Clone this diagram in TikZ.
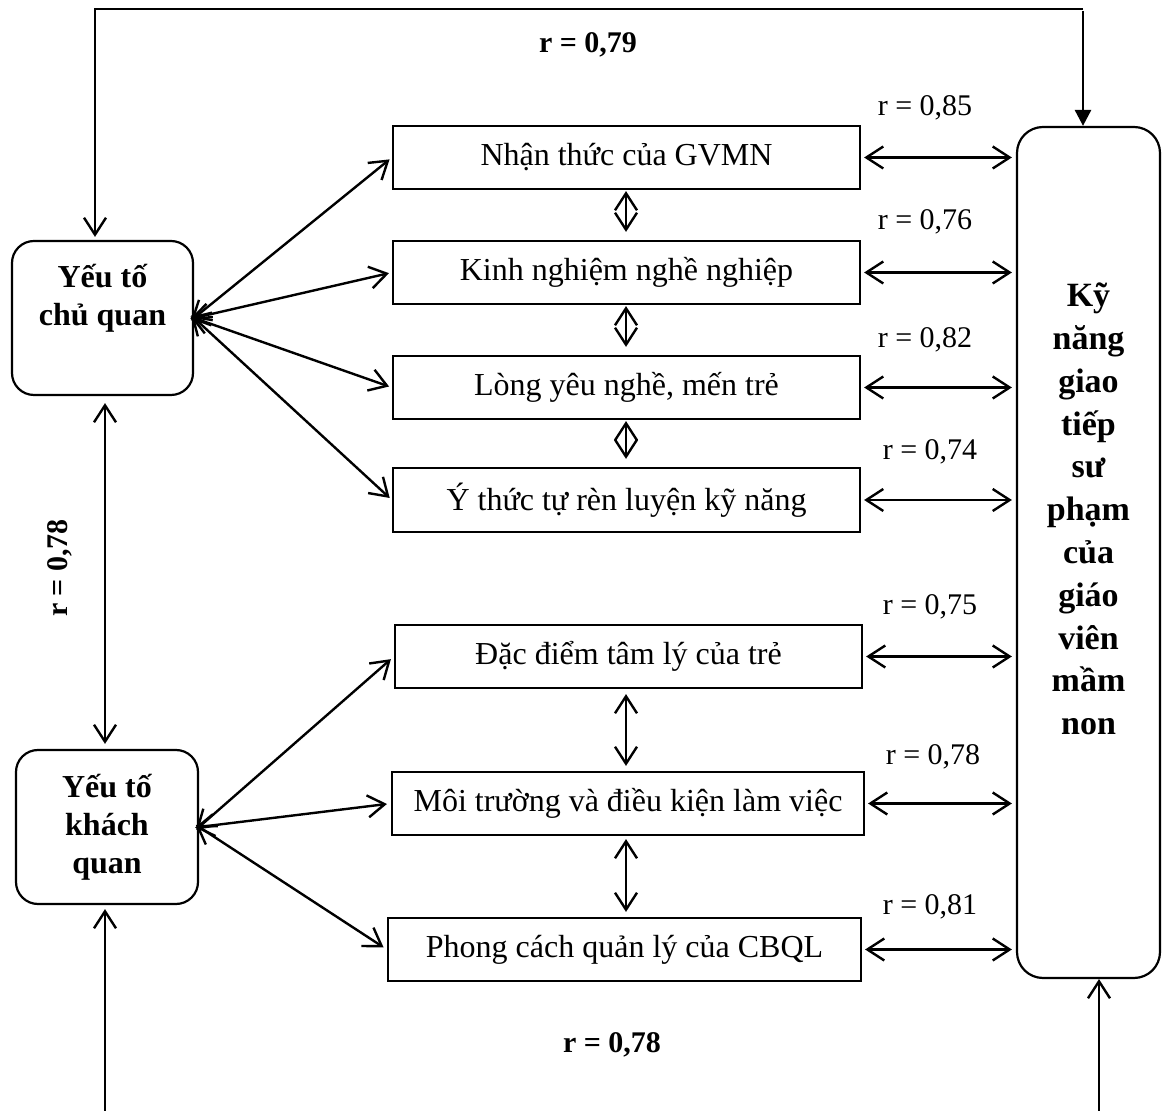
\documentclass[tikz,border=0pt]{standalone}
\usepackage{fontspec}
\setmainfont{Liberation Serif}
\usetikzlibrary{arrows.meta}
\begin{document}
\begin{tikzpicture}[x=0.5pt,y=-0.5pt,line width=1.2pt,
  barb/.tip={Straight Barb[length=8.5pt,width=11pt,line width=1.2pt]},
  dbl/.style={barb-barb},
  sgl/.style={-barb},
  fbox/.style={draw,line width=1.1pt,minimum height=31.5pt,inner sep=0pt,font=\fontsize{16}{19}\selectfont},
  sbox/.style={draw,line width=1.1pt,rounded corners=11pt,inner sep=0pt},
  rl/.style={font=\fontsize{15}{18}\selectfont},
  rb/.style={font=\bfseries\fontsize{15}{18}\selectfont},
  btxt/.style={font=\bfseries\fontsize{16}{19}\selectfont,align=center}]
\useasboundingbox (0,0) rectangle (1163,1111);
% left boxes
\node[sbox,minimum width=90.5pt,minimum height=77pt] (A) at (102.5,318) {};
\node[btxt] (At) at (102.5,298) {Yếu tố\\chủ quan};
\node[sbox,minimum width=91pt,minimum height=77pt,btxt] (B) at (107,827) {Yếu tố\\khách\\quan};
% big right box
\node[sbox,rounded corners=13pt,minimum width=71.5pt,minimum height=425.5pt] (C) at (1088.5,552.5) {};
\node[font=\bfseries\fontsize{17}{21.4}\selectfont,align=center] (Ct) at (1088.5,509)
  {Kỹ\\năng\\giao\\tiếp\\sư\\phạm\\của\\giáo\\viên\\mầm\\non};
% middle boxes
\node[fbox,minimum width=233.5pt] (b1) at (626.5,157.5) {Nhận thức của GVMN};
\node[fbox,minimum width=233.5pt] (b2) at (626.5,272.5) {Kinh nghiệm nghề nghiệp};
\node[fbox,minimum width=233.5pt] (b3) at (626.5,387.5) {Lòng yêu nghề, mến trẻ};
\node[fbox,minimum width=233.5pt,minimum height=32pt] (b4) at (626.5,500) {Ý thức tự rèn luyện kỹ năng};
\node[fbox,minimum width=233.5pt] (b5) at (628.5,656.5) {Đặc điểm tâm lý của trẻ};
\node[fbox,minimum width=236pt] (b6) at (628,803.5) {Môi trường và điều kiện làm việc};
\node[fbox,minimum width=236.5pt] (b7) at (624.5,949.5) {Phong cách quản lý của CBQL};
% helper coordinates
\coordinate (tl) at (95,9);
\coordinate (tr) at (1083,9);
\coordinate (bl) at (105,1111);
\coordinate (br) at (1099,1111);
\coordinate (lv) at (105,0);
\coordinate (vx) at (626,0);
% top loop
\draw[sgl,shorten >=1.5pt,line width=1pt] (tr) -- (tl) -- (A.north -| tl);
\draw[-{Triangle[length=8pt,width=8pt]},line width=1.4pt] ([yshift=-1pt]tr) -- (C.north -| tr);
\node[rb] (r79) at (588,45) {r = 0,79};
% bottom lines
\draw[sgl,shorten >=2pt] (bl) -- (B.south -| bl);
\draw[sgl] (br) -- (C.south -| br);
\node[rb] (r78b) at (612,1045) {r = 0,78};
% A-B vertical
\draw[dbl,shorten <=3.5pt,shorten >=2.5pt] (A.south -| lv) -- (B.north -| lv);
\node[rb,rotate=90] (r78l) at (60,568) {r = 0,78};
% fan from A
\foreach \b in {b1,b2,b3,b4}{
  \draw[dbl,shorten >=1.5pt,shorten <=-2pt] (A.east) -- (\b.west);
}
% fan from B
\foreach \b in {b5,b6,b7}{
  \draw[dbl,shorten >=2pt,shorten <=-2pt] (B.east) -- (\b.west);
}
% vertical between middle boxes
\draw[dbl,shorten <=0.5pt,shorten >=4pt] (b1.south -| vx) -- (b2.north -| vx);
\draw[dbl,shorten <=0.5pt,shorten >=4pt] (b2.south -| vx) -- (b3.north -| vx);
\draw[dbl,shorten <=0.5pt,shorten >=4pt] (b3.south -| vx) -- (b4.north -| vx);
\draw[dbl,shorten <=2.5pt,shorten >=2.5pt] (b5.south -| vx) -- (b6.north -| vx);
\draw[dbl,shorten <=1.5pt,shorten >=2.5pt] (b6.south -| vx) -- (b7.north -| vx);
% right arrows to C
\foreach \b in {b1,b2,b3,b4,b5,b6,b7}{
  \draw[dbl,shorten <=1.5pt,shorten >=2pt] (\b.east) -- (\b.east -| C.west);
}
% r labels
\node[rl] (r1) at (925,108) {r = 0,85};
\node[rl] (r2) at (925,222) {r = 0,76};
\node[rl] (r3) at (925,340) {r = 0,82};
\node[rl] (r4) at (930,452) {r = 0,74};
\node[rl] (r5) at (930,607) {r = 0,75};
\node[rl] (r6) at (933,757) {r = 0,78};
\node[rl] (r7) at (930,907) {r = 0,81};
\end{tikzpicture}
\end{document}
